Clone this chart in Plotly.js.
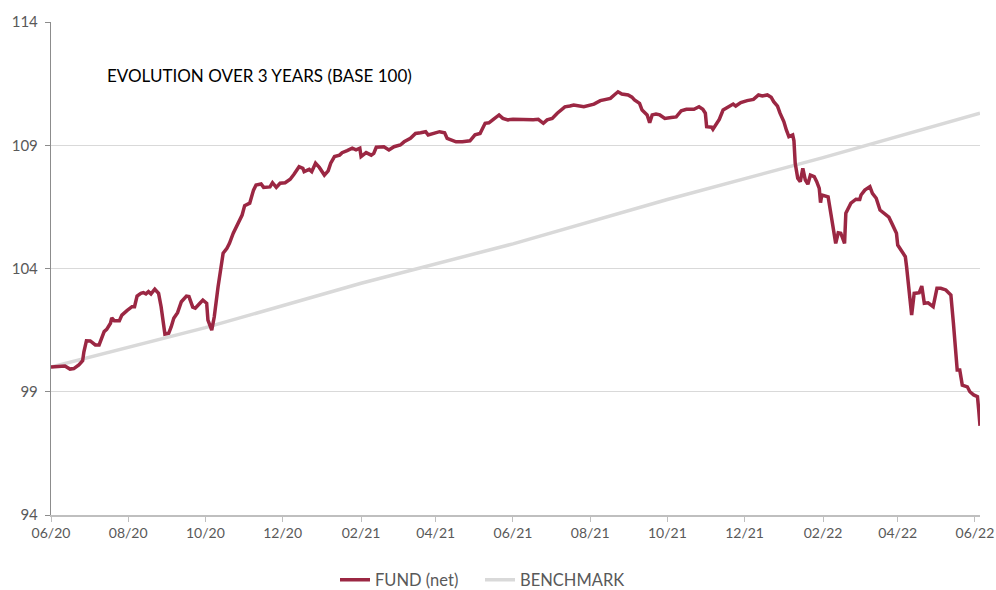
<!DOCTYPE html>
<html>
<head>
<meta charset="utf-8">
<script src="https://cdn.plot.ly/plotly-3.0.1.min.js"></script>
<style>
  html, body { margin: 0; padding: 0; background: #ffffff; }
  #chart { width: 996px; height: 590px; }
</style>
</head>
<body>
<div id="chart"></div>
<script>
// ---- Data ----
const fundDates = [
  "2020-06-01","2020-06-08","2020-06-12","2020-06-16","2020-06-19","2020-06-23","2020-06-26","2020-06-27","2020-06-29","2020-07-02",
  "2020-07-06","2020-07-09","2020-07-11","2020-07-13","2020-07-15","2020-07-18","2020-07-19","2020-07-21","2020-07-25","2020-07-27",
  "2020-07-31","2020-08-04","2020-08-06","2020-08-08","2020-08-11","2020-08-13","2020-08-15","2020-08-17","2020-08-19","2020-08-22",
  "2020-08-25","2020-08-27","2020-08-30","2020-09-02","2020-09-04","2020-09-06","2020-09-09","2020-09-12","2020-09-16","2020-09-18",
  "2020-09-21","2020-09-23","2020-09-27","2020-09-29","2020-10-02","2020-10-03","2020-10-06","2020-10-08","2020-10-11","2020-10-14",
  "2020-10-15","2020-10-18","2020-10-20","2020-10-23","2020-10-26","2020-10-28","2020-10-30","2020-11-01","2020-11-03","2020-11-05",
  "2020-11-08","2020-11-10","2020-11-14","2020-11-16","2020-11-21","2020-11-23","2020-11-26","2020-11-29","2020-12-03","2020-12-07",
  "2020-12-10","2020-12-14","2020-12-17","2020-12-18","2020-12-22","2020-12-24","2020-12-27","2020-12-30","2021-01-03","2021-01-06",
  "2021-01-08","2021-01-11","2021-01-15","2021-01-17","2021-01-21","2021-01-25","2021-01-28","2021-01-31","2021-02-01","2021-02-05",
  "2021-02-09","2021-02-11","2021-02-13","2021-02-19","2021-02-23","2021-02-27","2021-03-04","2021-03-07","2021-03-12","2021-03-16",
  "2021-03-20","2021-03-24","2021-03-26","2021-03-29","2021-04-04","2021-04-08","2021-04-10","2021-04-12","2021-04-17","2021-04-22",
  "2021-04-26","2021-04-28","2021-05-02","2021-05-06","2021-05-10","2021-05-13","2021-05-16","2021-05-21","2021-05-24","2021-05-28",
  "2021-06-01","2021-06-07","2021-06-12","2021-06-17","2021-06-21","2021-06-25","2021-06-28","2021-07-02","2021-07-06","2021-07-09",
  "2021-07-12","2021-07-16","2021-07-19","2021-07-27","2021-08-04","2021-08-09","2021-08-17","2021-08-20","2021-08-23","2021-08-26",
  "2021-08-31","2021-09-03","2021-09-05","2021-09-09","2021-09-11","2021-09-15","2021-09-17","2021-09-19","2021-09-22","2021-09-25",
  "2021-09-29","2021-10-04","2021-10-08","2021-10-12","2021-10-16","2021-10-22","2021-10-26","2021-10-29","2021-10-31","2021-11-01",
  "2021-11-05","2021-11-06","2021-11-09","2021-11-11","2021-11-14","2021-11-18","2021-11-22","2021-11-24","2021-11-28","2021-12-03",
  "2021-12-08","2021-12-12","2021-12-15","2021-12-19","2021-12-22","2021-12-24","2021-12-27","2021-12-29","2022-01-01","2022-01-03",
  "2022-01-05","2022-01-08","2022-01-09","2022-01-10","2022-01-12","2022-01-14","2022-01-16","2022-01-18","2022-01-20","2022-01-22",
  "2022-01-25","2022-01-27","2022-01-29","2022-01-30","2022-01-31","2022-02-05","2022-02-07","2022-02-09","2022-02-11","2022-02-13",
  "2022-02-15","2022-02-18","2022-02-19","2022-02-23","2022-02-27","2022-03-02","2022-03-03","2022-03-06","2022-03-10","2022-03-12",
  "2022-03-15","2022-03-18","2022-03-21","2022-03-25","2022-03-28","2022-03-31","2022-04-01","2022-04-04","2022-04-07","2022-04-08",
  "2022-04-10","2022-04-12","2022-04-14","2022-04-18","2022-04-20","2022-04-22","2022-04-25","2022-04-29","2022-05-02","2022-05-05",
  "2022-05-09","2022-05-13","2022-05-15","2022-05-18","2022-05-20","2022-05-22","2022-05-26","2022-05-28","2022-05-31","2022-06-03",
  "2022-06-04","2022-06-05"
];
const fundValues = [
  100.00,100.02,100.04,99.92,99.94,100.09,100.26,100.62,101.07,101.06,
  100.90,100.90,101.17,101.44,101.53,101.78,102.00,101.88,101.88,102.11,
  102.29,102.45,102.45,102.88,102.99,103.02,102.97,103.06,102.97,103.16,
  102.99,102.45,101.34,101.37,101.64,101.98,102.21,102.65,102.88,102.86,
  102.43,102.39,102.61,102.72,102.59,101.91,101.50,102.04,103.26,104.35,
  104.62,104.82,105.02,105.43,105.72,105.93,106.17,106.55,106.60,106.65,
  107.18,107.39,107.43,107.29,107.31,107.48,107.29,107.46,107.48,107.62,
  107.82,108.13,108.06,107.93,108.02,107.93,108.27,108.10,107.79,107.96,
  108.27,108.54,108.60,108.70,108.78,108.88,108.81,108.88,108.54,108.70,
  108.60,108.67,108.92,108.94,108.81,108.94,109.01,109.14,109.28,109.48,
  109.51,109.55,109.42,109.46,109.55,109.51,109.28,109.24,109.14,109.14,
  109.18,109.18,109.42,109.48,109.89,109.91,110.03,110.23,110.09,110.03,
  110.05,110.03,110.03,110.03,110.05,109.89,110.03,110.09,110.30,110.43,
  110.56,110.59,110.63,110.56,110.67,110.81,110.90,111.04,111.17,111.08,
  111.04,110.95,110.84,110.70,110.43,110.23,109.91,110.23,110.27,110.23,
  110.09,110.13,110.15,110.40,110.46,110.46,110.56,110.46,110.30,109.75,
  109.73,109.65,109.91,110.05,110.43,110.56,110.67,110.59,110.73,110.81,
  110.86,111.04,111.00,111.04,110.95,110.77,110.59,110.30,109.96,109.62,
  109.35,109.42,109.18,108.27,107.66,107.52,108.06,107.59,107.42,107.79,
  107.73,107.52,107.25,106.67,106.98,106.91,106.30,105.69,105.02,105.45,
  105.43,105.02,106.24,106.65,106.81,106.80,106.98,107.18,107.32,107.05,
  106.85,106.37,106.24,106.08,105.76,105.43,104.95,104.68,104.48,104.07,
  102.99,102.11,102.99,103.02,103.29,102.59,102.61,102.45,103.20,103.20,
  103.13,102.92,101.78,99.88,99.88,99.27,99.20,99.00,98.87,98.80,
  98.26,97.62
];
const benchDates  = ["2020-06-01","2020-10-01","2021-02-01","2021-06-01","2021-10-01","2022-02-01","2022-06-05"];
const benchValues = [100.0, 101.6, 103.4, 105.0, 106.8, 108.5, 110.3];

const seriesNames = ["FUND (net)", "BENCHMARK"];
const chartTitle = "EVOLUTION OVER 3 YEARS (BASE 100)";
const yTicks = [94, 99, 104, 109, 114];

const fontFam = "Lato, 'Open Sans', sans-serif";

const traces = [
  {
    x: benchDates, y: benchValues, type: "scatter", mode: "lines",
    name: seriesNames[1], legend: "legend2",
    line: { color: "#d9d9d9", width: 3.5 },
    hoverinfo: "skip"
  },
  {
    x: fundDates, y: fundValues, type: "scatter", mode: "lines",
    name: seriesNames[0], legend: "legend",
    line: { color: "#9b2743", width: 3.5 },
    hoverinfo: "skip"
  }
];

const legendBase = {
  orientation: "h", xanchor: "left", y: -0.132, yanchor: "middle",
  font: { family: fontFam, size: 16.5, color: "#595959" },
  itemwidth: 30, bgcolor: "rgba(0,0,0,0)"
};

const layout = {
  width: 996, height: 590,
  margin: { l: 51, r: 16, t: 22, b: 75, autoexpand: false },
  paper_bgcolor: "#ffffff",
  plot_bgcolor: "#ffffff",
  font: { family: fontFam, size: 14, color: "#595959" },
  showlegend: true,
  legend: Object.assign({}, legendBase, { x: (335 - 51) / 929 }),
  legend2: Object.assign({}, legendBase, { x: (480 - 51) / 929 }),
  xaxis: {
    type: "date",
    range: ["2020-06-01", "2022-06-05"],
    tick0: "2020-06-01", dtick: "M2", tickformat: "%m/%y",
    ticks: "outside", ticklen: 5, tickcolor: "#bfbfbf",
    showline: true, linecolor: "#bfbfbf", linewidth: 1.5,
    showgrid: false, zeroline: false,
    tickfont: { family: fontFam, size: 14, color: "#595959" },
    fixedrange: true
  },
  yaxis: {
    range: [94, 114],
    tickvals: yTicks,
    ticks: "outside", ticklen: 5, tickcolor: "#8c8c8c",
    showline: true, linecolor: "#8c8c8c", linewidth: 1.2,
    showgrid: true, gridcolor: "#d9d9d9", gridwidth: 1,
    zeroline: false,
    tickfont: { family: fontFam, size: 15, color: "#595959" },
    ticklabelstandoff: 4,
    fixedrange: true
  },
  annotations: [{
    text: chartTitle,
    xref: "paper", yref: "paper",
    x: (105 - 51) / 929, y: 1 - (76 - 22) / 493,
    xanchor: "left", yanchor: "middle",
    showarrow: false,
    font: { family: fontFam, size: 17, color: "#000000" }
  }]
};

Plotly.newPlot("chart", traces, layout, { staticPlot: true, displayModeBar: false });
</script>
</body>
</html>
